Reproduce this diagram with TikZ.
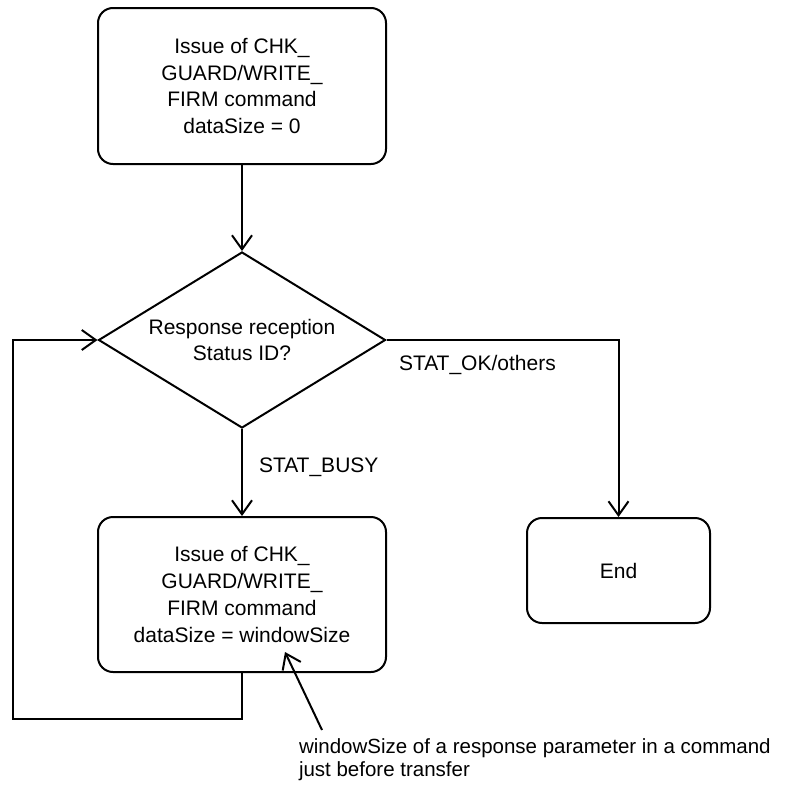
\documentclass[tikz,border=0pt]{standalone}
\usepackage{fontspec}
\setmainfont{Liberation Sans}
\usetikzlibrary{shapes.geometric,arrows.meta}
\begin{document}
\begin{tikzpicture}[x=1pt,y=1pt,line width=2pt,
    font=\fontsize{21}{26.7}\selectfont,
    box/.style={draw,rounded corners=15pt,align=center,minimum width=288pt},
    decision/.style={draw,diamond,aspect=1.63,inner sep=0pt,align=center,minimum width=287pt,minimum height=176pt},
    arr/.style={-{Straight Barb[length=14pt,width=20pt]}}]
    \useasboundingbox (0,0) rectangle (793,-790);
    \node[box,minimum height=156pt] (issue) at (242,-86) {Issue of CHK\_\\GUARD/WRITE\_\\FIRM command\\dataSize = 0};
    \node[decision] (resp) at (242,-340) {Response reception\\Status ID?};
    \node[box,minimum height=155pt] (retry) at (242,-594.5) {Issue of CHK\_\\GUARD/WRITE\_\\FIRM command\\dataSize = windowSize};
    \node[box,minimum width=183pt,minimum height=105pt] (end) at (618.5,-570.5) {End};
    \node[right,inner sep=0pt] (busy) at (258,-467) {STAT\_BUSY};
    \node[right,inner sep=0pt] (ok) at (398,-365) {STAT\_OK/others};
    \node[anchor=north west,align=left,inner sep=0pt,font=\fontsize{20.5}{23}\selectfont] (note) at (298,-738)
      {windowSize of a response parameter in a command\\just before transfer};
    \coordinate (tip) at (285,-652);
    \coordinate (tail) at (322,-730);
    % flow
    \draw[arr] (issue) -- (resp);
    \draw[arr] (resp) -- (retry);
    \draw[arr] (retry.south) -- ++(0,-46) -| (13,-340) -- (resp.west);
    \draw[arr] (resp.east) -| (end.north);
    \draw[arr] (tail) -- (tip);
\end{tikzpicture}
\end{document}
